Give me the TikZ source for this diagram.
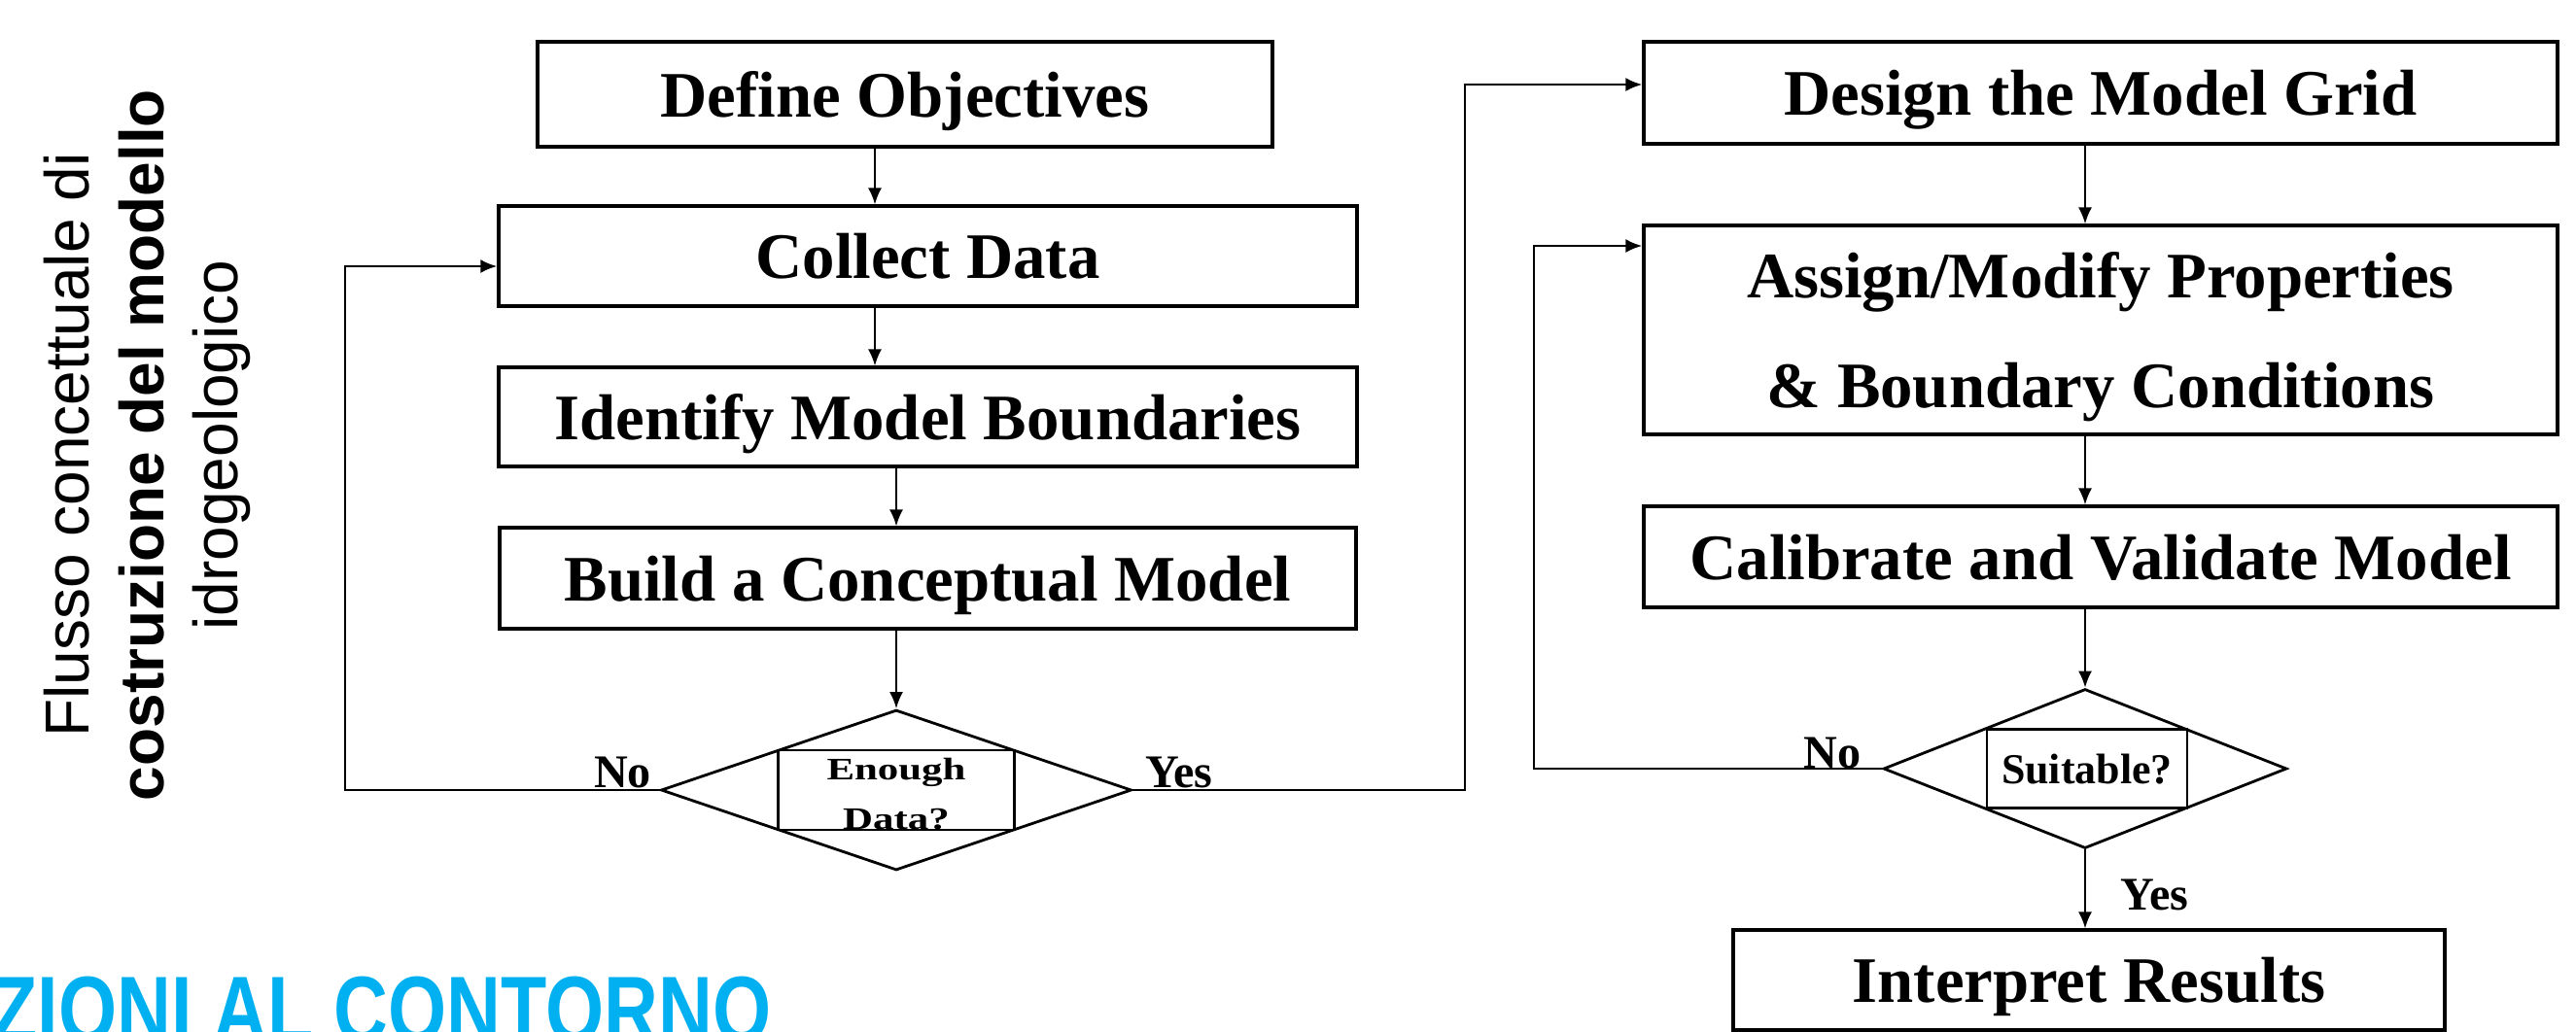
\documentclass[tikz,border=0pt]{standalone}
\usepackage{fontspec}
\setmainfont{Liberation Serif}
\newfontfamily\slidefont{Liberation Sans}
\usepackage{graphicx}
\usetikzlibrary{arrows.meta,positioning,shapes.geometric}
\definecolor{titlecyan}{RGB}{0,176,240}

\begin{document}
\begin{tikzpicture}[
box/.style={draw, line width=0.9pt, inner sep=0pt, text depth=0pt, font=\fontsize{19}{22}\selectfont\bfseries},
decision/.style={draw, diamond, line width=0.8pt, inner sep=0pt},
ask/.style={draw, line width=0.8pt, inner sep=0pt},
answer/.style={font=\fontsize{13.7}{16}\selectfont\bfseries, inner sep=0pt},
flow/.style={-{Latex[length=0.17cm,width=0.14cm]}, line width=0.6pt},
loop/.style={flow, line width=0.8pt}
]
    % Page frame
    \useasboundingbox (0,-10.61) rectangle (26.5,0);
    \clip (0,-10.61) rectangle (26.5,0);

    % Side title
    \node[rotate=90, align=center, inner sep=0pt, font=\slidefont\mdseries\fontsize{18.2}{21.8}\selectfont] (sidetitle) at (1.515,-4.58)
        {Flusso concettuale di\\{\bfseries costruzione del modello}\\idrogeologico};

    % Left column
    \node[box, minimum width=7.56cm, minimum height=1.08cm] (define) at (9.31,-0.97) {Define Objectives};
    \node[box, minimum width=8.83cm, minimum height=1.03cm] (collect) at (9.545,-2.635) {Collect Data};
    \node[box, minimum width=8.83cm, minimum height=1.02cm] (identify) at (9.545,-4.29) {Identify Model Boundaries};
    \node[box, minimum width=8.81cm, minimum height=1.04cm] (build) at (9.545,-5.95) {Build a Conceptual Model};
    \node[decision, minimum width=4.84cm, minimum height=1.65cm] (enough) at (9.22,-8.13) {};
    \node[ask, minimum width=2.43cm, minimum height=0.82cm] (enoughbox) at (enough) {};
    \node[yscale=0.75, transform shape, align=center, inner sep=0pt, text depth=0pt,
          font=\fontsize{12.2}{19.3}\selectfont\bfseries] (enoughtext) at ([yshift=-0.04cm]enough) {Enough\\Data?};

    % Right column
    \node[box, minimum width=9.40cm, minimum height=1.05cm] (design) at (21.61,-0.955) {Design the Model Grid};
    \node[box, minimum width=9.40cm, minimum height=2.15cm, align=center,
          font=\fontsize{19}{31.9}\selectfont\bfseries] (assign) at (21.61,-3.395)
        {Assign/Modify Properties\\\& Boundary Conditions};
    \node[box, minimum width=9.40cm, minimum height=1.04cm] (calibrate) at (21.61,-5.73) {Calibrate and Validate Model};
    \node[decision, minimum width=4.15cm, minimum height=1.64cm] (suitable) at (21.45,-7.91) {};
    \node[ask, minimum width=2.06cm, minimum height=0.81cm, text depth=0pt,
          font=\fontsize{12.5}{15}\selectfont\bfseries] (suitablebox) at ([xshift=0.02cm]suitable) {Suitable?};
    \node[box, minimum width=7.32cm, minimum height=1.03cm] (interpret) at (21.49,-10.085) {Interpret Results};

    % Straight arrows
    \draw[flow] ([xshift=-0.31cm]define.south) -- ([xshift=-0.31cm]define.south |- collect.north);
    \draw[flow] ([xshift=-0.31cm]define.south |- collect.south) -- ([xshift=-0.31cm]define.south |- identify.north);
    \draw[flow] (enough.north |- identify.south) -- (enough.north |- build.north);
    \draw[flow] (enough.north |- build.south) -- (enough.north);

    \draw[flow] (suitable.north |- design.south) -- (suitable.north |- assign.north);
    \draw[flow] (suitable.north |- assign.south) -- (suitable.north |- calibrate.north);
    \draw[flow] (suitable.north |- calibrate.south) -- (suitable.north);
    \draw[flow] (suitable.south) -- (suitable.south |- interpret.north);

    % Loops
    \coordinate (noleft) at (3.55,-2.74);
    \coordinate (yesright) at (15.07,-0.87);
    \coordinate (noright) at (15.78,-2.53);
    \draw[loop] (enough.west) -| (noleft) -- (noleft -| collect.west);
    \draw[loop] (enough.east) -| (yesright) -- (yesright -| design.west);
    \draw[loop] (suitable.west) -| (noright) -- (noright -| assign.west);

    % Answers
    \node[answer, anchor=base east] (no1) at ([xshift=-0.08cm,yshift=0.03cm]enough.west) {No};
    \node[answer, anchor=base west] (yes1) at ([xshift=0.12cm,yshift=0.03cm]enough.east) {Yes};
    \node[answer, anchor=base east] (no2) at ([xshift=-0.21cm,yshift=0.01cm]suitable.west) {No};
    \node[answer, anchor=base west] (yes2) at ([xshift=0.36cm,yshift=-0.62cm]suitable.south) {Yes};

    % Slide heading, cut by the page edge
    \node[anchor=base west, inner sep=0pt, text=titlecyan,
          font=\slidefont\bfseries\fontsize{27.5}{30}\selectfont] (heading) at (-0.09,-10.72)
        {\scalebox{0.8}[1]{ZIONI AL CONTORNO}};

\end{tikzpicture}
\end{document}
